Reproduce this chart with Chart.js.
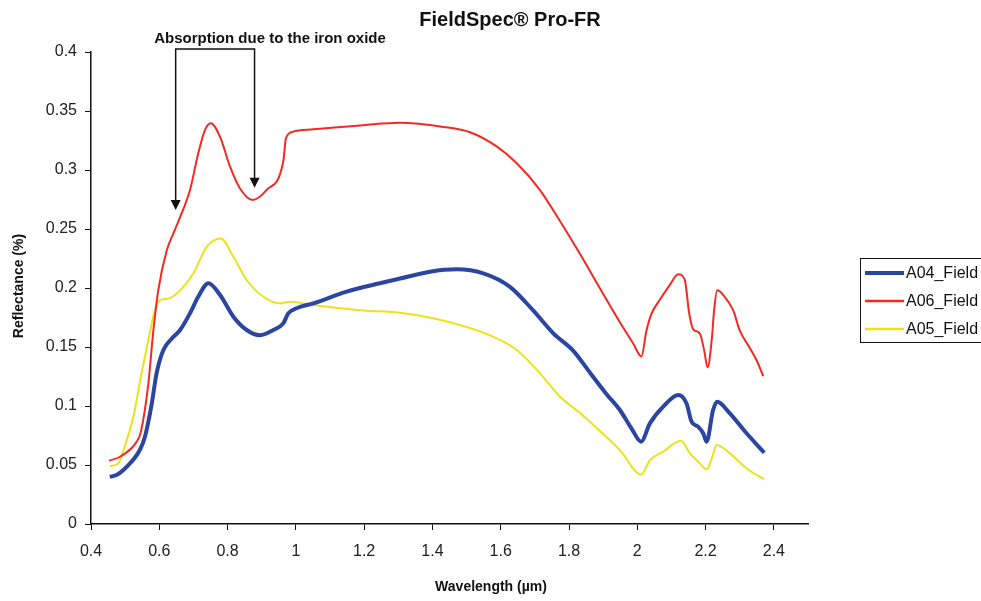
<!DOCTYPE html>
<html>
<head>
<meta charset="utf-8">
<script src="https://cdn.jsdelivr.net/npm/chart.js@4/dist/chart.umd.min.js"></script>
<style>
  html, body { margin: 0; padding: 0; background: #fff; }
  #wrap { width: 981px; height: 601px; position: relative; }
</style>
</head>
<body>
<div id="wrap"><canvas id="spectra"></canvas></div>
<script>
// Wavelength (µm) / reflectance samples
const waveA04 = [0.455, 0.475, 0.505, 0.543, 0.558, 0.578, 0.592, 0.612, 0.636, 0.661, 0.690, 0.714, 0.744, 0.778, 0.817, 0.856, 0.895, 0.934, 0.963, 0.978, 1.002, 1.051, 1.149, 1.246, 1.305, 1.393, 1.471, 1.549, 1.627, 1.695, 1.754, 1.812, 1.862, 1.910, 1.949, 1.985, 2.011, 2.037, 2.076, 2.120, 2.144, 2.159, 2.178, 2.193, 2.203, 2.222, 2.234, 2.271, 2.320, 2.372];
const reflA04 = [0.040, 0.0415, 0.0486, 0.0627, 0.074, 0.102, 0.1277, 0.1475, 0.157, 0.1644, 0.1786, 0.1926, 0.204, 0.194, 0.1757, 0.1644, 0.160, 0.1644, 0.170, 0.1786, 0.1828, 0.187, 0.1969, 0.204, 0.208, 0.2138, 0.2158, 0.2124, 0.201, 0.181, 0.1616, 0.147, 0.128, 0.110, 0.0966, 0.080, 0.0698, 0.0853, 0.0994, 0.1093, 0.1023, 0.0867, 0.0825, 0.0769, 0.0698, 0.0966, 0.1037, 0.0938, 0.0769, 0.0604];

const waveA06 = [0.453, 0.485, 0.534, 0.546, 0.568, 0.582, 0.597, 0.622, 0.641, 0.661, 0.690, 0.714, 0.734, 0.751, 0.778, 0.807, 0.836, 0.873, 0.914, 0.963, 0.971, 0.992, 1.051, 1.197, 1.305, 1.432, 1.510, 1.588, 1.647, 1.715, 1.773, 1.832, 1.890, 1.949, 1.988, 2.012, 2.027, 2.042, 2.066, 2.095, 2.120, 2.139, 2.152, 2.164, 2.183, 2.196, 2.206, 2.218, 2.225, 2.234, 2.252, 2.281, 2.300, 2.330, 2.349, 2.369];
const reflA06 = [0.0536, 0.057, 0.0698, 0.078, 0.119, 0.162, 0.198, 0.232, 0.246, 0.260, 0.283, 0.314, 0.334, 0.3396, 0.328, 0.303, 0.2845, 0.2746, 0.283, 0.307, 0.327, 0.3325, 0.3345, 0.338, 0.340, 0.3365, 0.332, 0.320, 0.3057, 0.283, 0.257, 0.229, 0.200, 0.171, 0.153, 0.142, 0.164, 0.1785, 0.190, 0.2025, 0.2116, 0.2068, 0.1785, 0.165, 0.1616, 0.147, 0.1328, 0.156, 0.181, 0.198, 0.194, 0.181, 0.164, 0.149, 0.139, 0.1254];

const waveA05 = [0.456, 0.480, 0.495, 0.524, 0.548, 0.568, 0.587, 0.602, 0.626, 0.661, 0.700, 0.739, 0.780, 0.817, 0.856, 0.905, 0.953, 0.983, 1.051, 1.197, 1.305, 1.402, 1.500, 1.568, 1.647, 1.715, 1.773, 1.832, 1.890, 1.949, 2.011, 2.037, 2.076, 2.128, 2.154, 2.183, 2.203, 2.220, 2.232, 2.271, 2.320, 2.372];
const reflA05 = [0.049, 0.0514, 0.0627, 0.0909, 0.1277, 0.156, 0.181, 0.1898, 0.191, 0.198, 0.2125, 0.235, 0.242, 0.2265, 0.2068, 0.1926, 0.187, 0.1884, 0.1856, 0.181, 0.179, 0.1743, 0.167, 0.160, 0.1475, 0.1277, 0.108, 0.094, 0.079, 0.0627, 0.042, 0.054, 0.0613, 0.0706, 0.060, 0.0514, 0.0463, 0.057, 0.067, 0.060, 0.047, 0.0379];

const xTicks = [0.4, 0.6, 0.8, 1, 1.2, 1.4, 1.6, 1.8, 2, 2.2, 2.4];
const yTicks = [0, 0.05, 0.1, 0.15, 0.2, 0.25, 0.3, 0.35, 0.4];

const seriesLabels = ['A04_Field', 'A06_Field', 'A05_Field'];
const seriesColors = ['#2a46a0', '#f22a22', '#ece21a'];
const seriesWidths = [4, 2, 2];

const FONT = '"Liberation Sans", Arial, sans-serif';

const toPoints = (xs, ys) => xs.map((x, i) => ({ x, y: ys[i] }));

const decorations = {
  id: 'decorations',
  afterDraw(chart) {
    const c = chart.ctx;
    const { x, y } = chart.scales;
    c.save();
    c.fillStyle = '#111';
    c.textAlign = 'center';
    c.textBaseline = 'middle';

    // title
    c.font = 'bold 20px ' + FONT;
    c.fillText('FieldSpec® Pro-FR', 510, 20);

    // axis titles
    c.font = 'bold 14px ' + FONT;
    c.fillText('Wavelength (µm)', 491, 587);
    c.save();
    c.translate(19, 286);
    c.rotate(-Math.PI / 2);
    c.fillText('Reflectance (%)', 0, 0);
    c.restore();

    // annotation
    c.font = 'bold 15px ' + FONT;
    c.fillText('Absorption due to the iron oxide', 270, 39);

    const lx = x.getPixelForValue(0.648);
    const rx = x.getPixelForValue(0.879);
    const top = y.getPixelForValue(0.4025);
    const ltip = y.getPixelForValue(0.266);
    const rtip = y.getPixelForValue(0.285);
    c.strokeStyle = '#111';
    c.lineWidth = 1.5;
    c.beginPath();
    c.moveTo(lx, ltip - 9);
    c.lineTo(lx, top);
    c.lineTo(rx, top);
    c.lineTo(rx, rtip - 9);
    c.stroke();
    [[lx, ltip], [rx, rtip]].forEach(([px, py]) => {
      c.beginPath();
      c.moveTo(px - 5, py - 10);
      c.lineTo(px + 5, py - 10);
      c.lineTo(px, py);
      c.closePath();
      c.fill();
    });

    // legend
    c.lineWidth = 1;
    c.strokeStyle = '#111';
    c.strokeRect(860.5, 258.5, 140, 84);
    c.textAlign = 'left';
    c.font = '16px ' + FONT;
    const rows = [273, 301, 329];
    seriesLabels.forEach((lab, i) => {
      c.strokeStyle = seriesColors[i];
      c.lineWidth = seriesWidths[i] === 4 ? 4 : 2.5;
      c.beginPath();
      c.moveTo(865, rows[i]);
      c.lineTo(904, rows[i]);
      c.stroke();
      c.fillStyle = '#111';
      c.fillText(lab, 906, rows[i] + 1);
    });
    c.restore();
  }
};

new Chart(document.getElementById('spectra'), {
  type: 'line',
  data: {
    datasets: [
      { label: seriesLabels[0], data: toPoints(waveA04, reflA04) },
      { label: seriesLabels[1], data: toPoints(waveA06, reflA06) },
      { label: seriesLabels[2], data: toPoints(waveA05, reflA05) }
    ].map((d, i) => ({
      ...d,
      borderColor: seriesColors[i],
      borderWidth: seriesWidths[i],
      pointRadius: 0,
      fill: false,
      cubicInterpolationMode: 'monotone',
      order: i
    }))
  },
  options: {
    responsive: true,
    maintainAspectRatio: false,
    animation: false,
    layout: { padding: { left: 0, top: 52, right: 173, bottom: 0 } },
    plugins: {
      legend: { display: false },
      tooltip: { enabled: false }
    },
    scales: {
      x: {
        type: 'linear',
        min: 0.4,
        max: 2.5,
        afterBuildTicks(scale) {
          scale.ticks = xTicks.map(v => ({ value: v }));
        },
        afterFit(scale) { scale.height = 77; },
        grid: { drawOnChartArea: false, color: '#111', tickLength: 6 },
        border: { color: '#111', width: 1.5 },
        ticks: {
          padding: 12,
          color: '#222',
          font: { family: FONT, size: 16 },
          maxRotation: 0,
          autoSkip: false,
          callback(value) { return String(Number(value.toFixed(1))); }
        }
      },
      y: {
        min: 0,
        max: 0.4,
        afterBuildTicks(scale) {
          scale.ticks = yTicks.map(v => ({ value: v }));
        },
        afterFit(scale) { scale.width = 91; },
        grid: { drawOnChartArea: false, color: '#111', tickLength: 6 },
        border: { color: '#111', width: 1.5 },
        ticks: {
          padding: 8,
          color: '#222',
          font: { family: FONT, size: 16 },
          autoSkip: false,
          callback(value) { return String(Number(value.toFixed(2))); }
        }
      }
    }
  },
  plugins: [decorations]
});
</script>
</body>
</html>
